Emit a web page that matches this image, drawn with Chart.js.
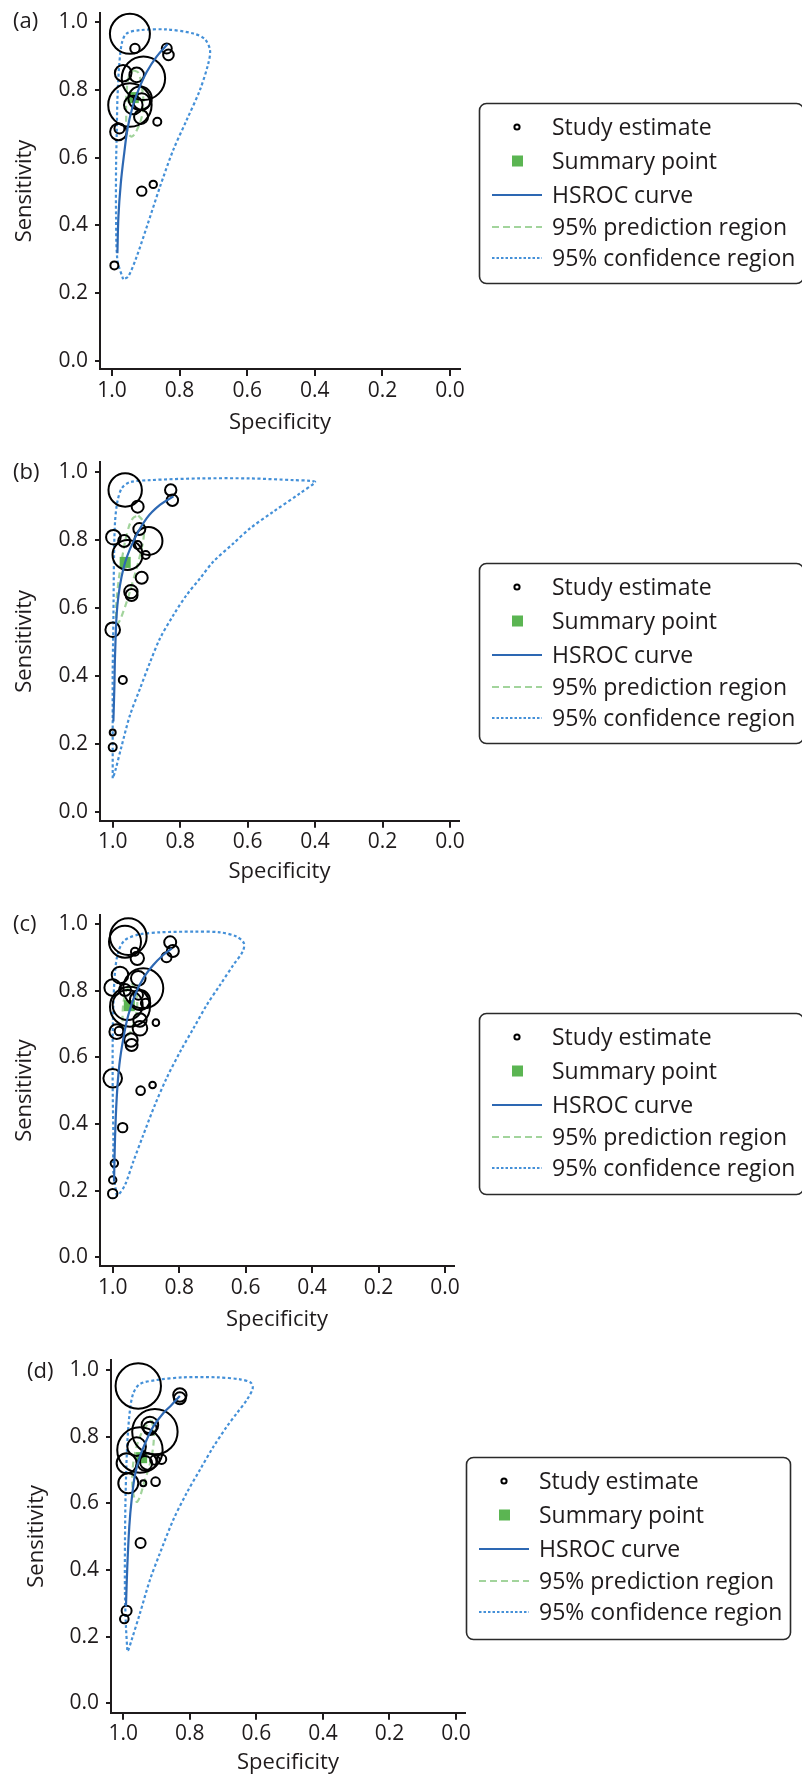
<!DOCTYPE html>
<html>
<head>
<meta charset="utf-8">
<script src="https://cdn.jsdelivr.net/npm/chart.js@4"></script>
<style>
html, body { margin: 0; padding: 0; background: #fff; }
#wrap { position: relative; width: 802px; height: 1776px; overflow: hidden; }
#wrap canvas { position: absolute; left: 0; }
</style>
</head>
<body>
<div id="wrap"></div>
<script>
// ---- data ----
const xTickValues = [1.0, 0.8, 0.6, 0.4, 0.2, 0.0];
const yTickValues = [0.0, 0.2, 0.4, 0.6, 0.8, 1.0];
const legendLabels = ['Study estimate', 'Summary point', 'HSROC curve', '95% prediction region', '95% confidence region'];

// (a)
const aStudySpec = [0.947, 0.932, 0.838, 0.833, 0.967, 0.927, 0.907, 0.947, 0.917, 0.937, 0.912, 0.914, 0.866, 0.981, 0.978, 0.912, 0.878, 0.993];
const aStudySens = [0.965, 0.922, 0.922, 0.903, 0.849, 0.844, 0.834, 0.755, 0.775, 0.755, 0.765, 0.720, 0.706, 0.676, 0.686, 0.501, 0.521, 0.282];
const aStudySize = [20, 4.7, 5, 5.3, 8.3, 7.3, 21.7, 21.7, 11.7, 9.3, 8.3, 7, 4, 8.3, 5, 4.7, 3.7, 4];
const aSummary = [0.937, 0.777];
const aCurveSpec = [0.984, 0.981, 0.974, 0.964, 0.954, 0.939, 0.922, 0.897, 0.868, 0.835];
const aCurveSens = [0.318, 0.426, 0.524, 0.612, 0.686, 0.750, 0.799, 0.853, 0.898, 0.935];
const aPredSpec = [0.937, 0.922, 0.912, 0.907, 0.912, 0.927, 0.942, 0.955, 0.958, 0.957, 0.950, 0.937];
const aPredSens = [0.858, 0.850, 0.810, 0.760, 0.720, 0.680, 0.662, 0.680, 0.730, 0.790, 0.840, 0.858];
const aConfSpec = [0.967, 0.984, 0.988, 0.988, 0.986, 0.984, 0.979, 0.971, 0.957, 0.917, 0.838, 0.759, 0.725, 0.710, 0.715, 0.740, 0.779, 0.819, 0.858, 0.897, 0.927, 0.952, 0.967];
const aConfSens = [0.241, 0.298, 0.426, 0.573, 0.672, 0.770, 0.868, 0.937, 0.966, 0.976, 0.978, 0.966, 0.949, 0.917, 0.878, 0.799, 0.711, 0.622, 0.514, 0.396, 0.308, 0.249, 0.241];

// (b)
const bStudySpec = [0.963, 0.926, 0.828, 0.823, 0.998, 0.966, 0.921, 0.894, 0.926, 0.902, 0.956, 0.914, 0.946, 0.944, 1.000, 0.970, 1.000, 1.000];
const bStudySens = [0.948, 0.899, 0.948, 0.918, 0.809, 0.798, 0.833, 0.798, 0.786, 0.757, 0.757, 0.690, 0.649, 0.639, 0.537, 0.389, 0.235, 0.191];
const bStudySize = [16.7, 6, 5.7, 5.7, 7.3, 6, 6, 14, 4, 4, 15, 6, 6.7, 6, 7.3, 4, 3, 4];
const bSummary = [0.963, 0.735];
const bCurveSpec = [0.998, 0.995, 0.993, 0.986, 0.968, 0.939, 0.899, 0.860, 0.820];
const bCurveSens = [0.267, 0.370, 0.463, 0.610, 0.718, 0.796, 0.865, 0.904, 0.929];
const bPredSpec = [0.924, 0.910, 0.907, 0.918, 0.940, 0.965, 0.985, 0.990, 0.985, 0.970, 0.955, 0.940, 0.924];
const bPredSens = [0.873, 0.855, 0.820, 0.760, 0.680, 0.600, 0.555, 0.580, 0.660, 0.760, 0.830, 0.865, 0.873];
const bConfSpec = [1.000, 1.000, 1.000, 0.998, 0.996, 0.993, 0.986, 0.973, 0.949, 0.889, 0.741, 0.593, 0.464, 0.415, 0.400, 0.445, 0.524, 0.593, 0.642, 0.702, 0.741, 0.781, 0.820, 0.860, 0.889, 0.919, 0.949, 0.973, 0.993, 1.000];
const bConfSens = [0.100, 0.267, 0.414, 0.561, 0.757, 0.855, 0.914, 0.953, 0.971, 0.977, 0.982, 0.982, 0.977, 0.975, 0.971, 0.938, 0.884, 0.835, 0.791, 0.737, 0.688, 0.639, 0.580, 0.511, 0.442, 0.364, 0.285, 0.197, 0.120, 0.100];

// (c)
const cStudySpec = [0.953, 0.963, 0.933, 0.926, 0.827, 0.819, 0.838, 0.978, 0.923, 0.908, 1.000, 0.963, 0.948, 0.955, 0.918, 0.923, 0.901, 0.918, 0.918, 0.870, 0.988, 0.981, 0.945, 0.943, 1.000, 0.916, 0.880, 0.970, 0.995, 1.000, 1.000];
const cStudySens = [0.962, 0.947, 0.917, 0.897, 0.945, 0.919, 0.900, 0.847, 0.837, 0.807, 0.809, 0.802, 0.752, 0.757, 0.772, 0.787, 0.762, 0.712, 0.687, 0.704, 0.677, 0.679, 0.652, 0.637, 0.537, 0.500, 0.517, 0.389, 0.282, 0.232, 0.191];
const cStudySize = [18.3, 16, 4, 6.7, 6, 6, 5, 8.3, 7.3, 20, 8.3, 6, 20, 15, 10, 4.7, 4.7, 6.7, 7.3, 3.3, 7.3, 4.3, 6.7, 6, 9.3, 4.3, 3.3, 4.7, 3.7, 3.7, 4.7];
const cSummary = [0.950, 0.755];
const cCurveSpec = [0.996, 0.993, 0.988, 0.980, 0.968, 0.953, 0.933, 0.908, 0.878, 0.848, 0.822];
const cCurveSens = [0.227, 0.357, 0.477, 0.577, 0.657, 0.727, 0.787, 0.837, 0.877, 0.907, 0.927];
const cPredSpec = [0.943, 0.933, 0.926, 0.933, 0.953, 0.966, 0.970, 0.960, 0.943];
const cPredSens = [0.822, 0.807, 0.767, 0.717, 0.667, 0.687, 0.737, 0.797, 0.822];
const cConfSpec = [0.988, 0.998, 0.998, 1.000, 1.000, 0.998, 0.993, 0.983, 0.963, 0.918, 0.858, 0.757, 0.677, 0.627, 0.605, 0.609, 0.637, 0.677, 0.717, 0.757, 0.797, 0.838, 0.873, 0.908, 0.938, 0.963, 0.983, 0.988];
const cConfSens = [0.185, 0.257, 0.357, 0.507, 0.657, 0.757, 0.857, 0.917, 0.952, 0.969, 0.975, 0.977, 0.975, 0.962, 0.942, 0.917, 0.877, 0.817, 0.757, 0.687, 0.617, 0.537, 0.457, 0.367, 0.287, 0.217, 0.187, 0.185];

// (d)
const dStudySpec = [0.955, 0.830, 0.830, 0.905, 0.920, 0.920, 0.950, 0.960, 0.990, 0.985, 0.935, 0.925, 0.885, 0.905, 0.940, 0.903, 0.948, 0.990, 0.997];
const dStudySens = [0.952, 0.925, 0.915, 0.815, 0.835, 0.825, 0.760, 0.770, 0.720, 0.660, 0.720, 0.725, 0.732, 0.730, 0.660, 0.665, 0.481, 0.278, 0.253];
const dStudySize = [22.7, 6.7, 6, 22.7, 8.3, 6.7, 22.7, 9.3, 10, 10, 7.3, 8.3, 4.7, 4.7, 3, 4.3, 5, 5, 4.3];
const dSummary = [0.945, 0.737];
const dCurveSpec = [0.992, 0.988, 0.982, 0.975, 0.965, 0.950, 0.930, 0.910, 0.880, 0.855, 0.830];
const dCurveSens = [0.290, 0.410, 0.530, 0.610, 0.685, 0.740, 0.790, 0.830, 0.870, 0.895, 0.922];
const dPredSpec = [0.915, 0.908, 0.915, 0.935, 0.958, 0.970, 0.972, 0.960, 0.940, 0.915];
const dPredSens = [0.850, 0.810, 0.740, 0.670, 0.605, 0.630, 0.700, 0.770, 0.820, 0.850];
const dConfSpec = [0.988, 0.992, 0.995, 0.995, 0.993, 0.988, 0.980, 0.970, 0.950, 0.900, 0.820, 0.719, 0.649, 0.617, 0.611, 0.629, 0.659, 0.689, 0.729, 0.770, 0.810, 0.850, 0.890, 0.920, 0.950, 0.975, 0.985, 0.988];
const dConfSens = [0.160, 0.230, 0.330, 0.480, 0.630, 0.780, 0.880, 0.930, 0.958, 0.970, 0.978, 0.978, 0.972, 0.962, 0.945, 0.910, 0.870, 0.830, 0.770, 0.700, 0.630, 0.550, 0.450, 0.370, 0.270, 0.190, 0.160, 0.160];

// ---- styling ----
const FONT = '"Open Sans", "Noto Sans", sans-serif';
const INK = '#1f1b1c';
const C_CURVE = '#2d68b3';
const C_CONF = '#4490d8';
const C_PRED = '#a2d49c';
const C_SUMMARY = '#5bb552';
const TICK_SIZE = 21;
const TITLE_SIZE = 22;
const LEGEND_SIZE = 23;

const panels = [
    { tag: '(a)', spec: aStudySpec, sens: aStudySens, size: aStudySize, summary: aSummary,
      curve: [aCurveSpec, aCurveSens], pred: [aPredSpec, aPredSens], conf: [aConfSpec, aConfSens],
      geo: { top: 0, H: 450, left: 100, right: 460, areaTop: 13, bottom: 369, x1: 112, x0: 450, y1: 22, y0: 361,
             yTitleX: 25, xTitleY: 423, tagX: 13, tagY: 22, box: [479, 103, 324, 180] } },
    { tag: '(b)', spec: bStudySpec, sens: bStudySens, size: bStudySize, summary: bSummary,
      curve: [bCurveSpec, bCurveSens], pred: [bPredSpec, bPredSens], conf: [bConfSpec, bConfSens],
      geo: { top: 450, H: 450, left: 100, right: 459, areaTop: 12, bottom: 370.7, x1: 112.7, x0: 450, y1: 22.3, y0: 362.3,
             yTitleX: 25, xTitleY: 421.7, tagX: 13, tagY: 23, box: [479, 113, 324, 180] } },
    { tag: '(c)', spec: cStudySpec, sens: cStudySens, size: cStudySize, summary: cSummary,
      curve: [cCurveSpec, cCurveSens], pred: [cPredSpec, cPredSens], conf: [cConfSpec, cConfSens],
      geo: { top: 900, H: 440, left: 100, right: 454, areaTop: 15, bottom: 366, x1: 112.7, x0: 445, y1: 24, y0: 357.3,
             yTitleX: 25, xTitleY: 420, tagX: 13, tagY: 25, box: [479, 113, 324, 181] } },
    { tag: '(d)', spec: dStudySpec, sens: dStudySens, size: dStudySize, summary: dSummary,
      curve: [dCurveSpec, dCurveSens], pred: [dPredSpec, dPredSens], conf: [dConfSpec, dConfSens],
      geo: { top: 1340, H: 436, left: 111, right: 465, areaTop: 20, bottom: 372.7, x1: 123.3, x0: 456, y1: 30, y0: 363.3,
             yTitleX: 37, xTitleY: 423, tagX: 27, tagY: 32, box: [466, 117, 324, 182] } }
];

const pts = (xs, ys) => xs.map((x, i) => ({ x: x, y: ys[i] }));

// draws the boxed legend and the panel tag
const srocLegend = {
    id: 'srocLegend',
    afterDraw(chart, args, opts) {
        const ctx = chart.ctx;
        const [bx, by, bw, bh] = opts.box;
        ctx.save();
        ctx.fillStyle = INK;
        ctx.textBaseline = 'middle';
        ctx.textAlign = 'left';
        ctx.font = TITLE_SIZE + 'px ' + FONT;
        ctx.fillText(opts.tag, opts.tagX, opts.tagY);

        ctx.strokeStyle = '#2a2a2a';
        ctx.lineWidth = 1.6;
        ctx.beginPath();
        ctx.roundRect(bx + 0.5, by + 0.5, bw, bh, 7);
        ctx.stroke();

        const rows = [24, 58, 92, 124, 155];
        ctx.font = LEGEND_SIZE + 'px ' + FONT;
        legendLabels.forEach((label, i) => {
            const y = by + rows[i];
            ctx.save();
            if (i === 0) {
                ctx.strokeStyle = '#000';
                ctx.lineWidth = 2;
                ctx.beginPath();
                ctx.arc(bx + 38, y, 2.6, 0, Math.PI * 2);
                ctx.stroke();
            } else if (i === 1) {
                ctx.fillStyle = C_SUMMARY;
                ctx.fillRect(bx + 33, y - 5.5, 11, 11);
            } else {
                ctx.lineWidth = 2;
                ctx.strokeStyle = i === 3 ? C_PRED : (i === 2 ? C_CURVE : C_CONF);
                ctx.setLineDash(i === 3 ? [7, 4] : (i === 4 ? [2.5, 2] : []));
                ctx.beginPath();
                ctx.moveTo(bx + 13, y);
                ctx.lineTo(bx + 63, y);
                ctx.stroke();
            }
            ctx.restore();
            ctx.fillText(label, bx + 73, y + 1);
        });
        ctx.restore();
    }
};

function makeScales(g) {
    const xppu = g.x0 - g.x1;
    const yppu = g.y0 - g.y1;
    const tickFont = { family: FONT, size: TICK_SIZE };
    const titleFont = { family: FONT, size: TITLE_SIZE };
    const half = TITLE_SIZE * 1.2 / 2;
    return {
        x: {
            type: 'linear', reverse: true,
            min: -(g.right - g.x0) / xppu,
            max: 1 + (g.x1 - g.left) / xppu,
            afterBuildTicks: s => { s.ticks = xTickValues.map(v => ({ value: v })); },
            afterFit: s => { s.height = g.H - g.bottom; s.paddingLeft = 0; s.paddingRight = 0; },
            ticks: { font: tickFont, color: INK, padding: 2, maxRotation: 0, autoSkip: false,
                     callback: v => Number(v).toFixed(1) },
            grid: { drawOnChartArea: false, drawTicks: true, tickLength: 7, color: INK, lineWidth: 2 },
            border: { display: true, color: INK, width: 2 },
            title: { display: true, text: 'Specificity', font: titleFont, color: INK,
                     padding: { top: 0, bottom: g.H - g.xTitleY - half } }
        },
        y: {
            type: 'linear',
            min: -(g.bottom - g.y0) / yppu,
            max: 1 + (g.y1 - g.areaTop) / yppu,
            afterBuildTicks: s => { s.ticks = yTickValues.map(v => ({ value: v })); },
            afterFit: s => { s.width = g.left; s.paddingTop = 0; s.paddingBottom = 0; },
            ticks: { font: tickFont, color: INK, padding: 7, autoSkip: false,
                     callback: v => Number(v).toFixed(1) },
            grid: { drawOnChartArea: false, drawTicks: true, tickLength: 5, color: INK, lineWidth: 2 },
            border: { display: true, color: INK, width: 2 },
            title: { display: true, text: 'Sensitivity', font: titleFont, color: INK,
                     padding: { top: g.yTitleX - half, bottom: 0 } }
        }
    };
}

const wrap = document.getElementById('wrap');
panels.forEach(p => {
    const g = p.geo;
    const canvas = document.createElement('canvas');
    canvas.width = 802;
    canvas.height = g.H;
    canvas.style.top = g.top + 'px';
    canvas.style.width = '802px';
    canvas.style.height = g.H + 'px';
    wrap.appendChild(canvas);

    const studies = p.spec.map((s, i) => ({ x: s, y: p.sens[i], r: p.size[i] }));

    new Chart(canvas, {
        type: 'scatter',
        data: {
            datasets: [
                { label: legendLabels[2], data: pts(p.curve[0], p.curve[1]), showLine: true, tension: 0.35,
                  borderColor: C_CURVE, borderWidth: 2.2, pointRadius: 0, clip: false, order: 1 },
                { type: 'bubble', label: legendLabels[0], data: studies, borderColor: '#000', borderWidth: 2,
                  backgroundColor: 'rgba(0,0,0,0)', clip: false, order: 2 },
                { label: legendLabels[1], data: [{ x: p.summary[0], y: p.summary[1] }], pointStyle: 'rect',
                  pointRadius: 7.8, backgroundColor: C_SUMMARY, borderWidth: 0, clip: false, order: 3 },
                { label: legendLabels[3], data: pts(p.pred[0], p.pred[1]), showLine: true, tension: 0.4,
                  borderColor: C_PRED, borderWidth: 2.2, borderDash: [6, 4], pointRadius: 0, clip: false, order: 4 },
                { label: legendLabels[4], data: pts(p.conf[0], p.conf[1]), showLine: true, tension: 0.3,
                  borderColor: C_CONF, borderWidth: 2.2, borderDash: [3, 2.5], pointRadius: 0, clip: false, order: 5 }
            ]
        },
        options: {
            responsive: false,
            animation: false,
            devicePixelRatio: 1,
            layout: { autoPadding: false, padding: { left: 0, top: g.areaTop, right: 802 - g.right, bottom: 0 } },
            scales: makeScales(g),
            plugins: {
                legend: { display: false },
                tooltip: { enabled: false },
                srocLegend: { tag: p.tag, tagX: g.tagX, tagY: g.tagY, box: g.box }
            }
        },
        plugins: [srocLegend]
    });
});
</script>
</body>
</html>
